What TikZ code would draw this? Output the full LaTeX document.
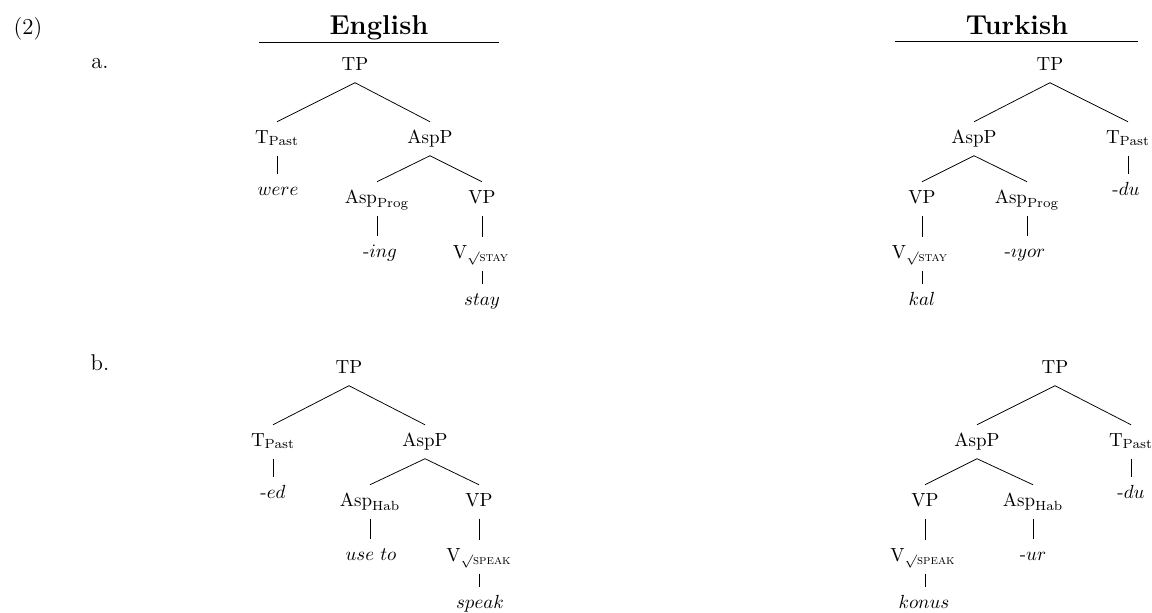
\documentclass[tikz,border=0pt]{standalone}
\usepackage{amsmath}
\usepackage{fontspec}
\usepackage{tikz}

% letter-spaced subscript text
\newcommand{\subtxt}[1]{\text{\addfontfeature{LetterSpace=30}#1}}

\begin{document}
\begin{tikzpicture}[x=0.527pt, y=-0.527pt,
    cat/.style={anchor=base, inner xsep=0pt, inner ysep=4.5pt, text height=6.5pt, text depth=2pt},
    heading/.style={anchor=base, font=\Large\bfseries},
    exlabel/.style={anchor=base, font=\large}]
    \useasboundingbox (0,0) rectangle (1152,613);

    % Example number and sub-labels
    \node[exlabel] (num) at (28,34) {(2)};
    \node[exlabel] (la) at (100,68) {a.};
    \node[exlabel] (lb) at (100,370) {b.};

    % Column headings
    \node[heading] (eng) at (379,34) {English};
    \node[heading] (tur) at (1017,34) {Turkish};
    \draw (259,42) -- (499,42);
    \draw (895,41) -- (1138,41);

    % English, a.
    \node[cat] (eaTP) at (355,70) {TP};
    \node[cat] (eaT) at (277,143) {$\mathrm{T}_{\subtxt{Past}}$};
    \node[cat] (eaAspP) at (430,143) {AspP};
    \node[cat] (eaWere) at (278,195) {$were$};
    \node[cat] (eaAsp) at (377,203) {$\mathrm{Asp}_{\subtxt{Prog}}$};
    \node[cat] (eaVP) at (482,203) {VP};
    \node[cat] (eaIng) at (380,257) {-$ing$};
    \node[cat] (eaV) at (481,258) {$\mathrm{V}_{\surd\subtxt{\textsc{stay}}}$};
    \node[cat] (eaStay) at (482,305) {$stay$};
    \draw (eaTP.south) -- (eaT.north);
    \draw (eaTP.south) -- (eaAspP.north);
    \draw (eaT.south) -- (eaT.south |- eaWere.north);
    \draw (eaAspP.south) -- (eaAsp.north);
    \draw (eaAspP.south) -- (eaVP.north);
    \draw (eaAsp.south) -- (eaAsp.south |- eaIng.north);
    \draw (eaVP.south) -- (eaVP.south |- eaV.north);
    \draw (eaVP.south |- eaV.south) -- (eaVP.south |- eaStay.north);

    % Turkish, a.
    \node[cat] (taTP) at (1050,70) {TP};
    \node[cat] (taAspP) at (974,143) {AspP};
    \node[cat] (taT) at (1128,143) {$\mathrm{T}_{\subtxt{Past}}$};
    \node[cat] (taVP) at (922,203) {VP};
    \node[cat] (taAsp) at (1027,203) {$\mathrm{Asp}_{\subtxt{Prog}}$};
    \node[cat] (taDu) at (1126,195) {-$du$};
    \node[cat] (taV) at (920,258) {$\mathrm{V}_{\surd\subtxt{\textsc{stay}}}$};
    \node[cat] (taIyor) at (1025,257) {-$\imath yor$};
    \node[cat] (taKal) at (922,305) {$kal$};
    \draw (taTP.south) -- (taAspP.north);
    \draw (taTP.south) -- (taT.north);
    \draw (taT.south) -- (taT.south |- taDu.north);
    \draw (taAspP.south) -- (taVP.north);
    \draw (taAspP.south) -- (taAsp.north);
    \draw (taVP.south) -- (taVP.south |- taV.north);
    \draw (taAsp.south) -- (taAsp.south |- taIyor.north);
    \draw (taVP.south |- taV.south) -- (taVP.south |- taKal.north);

    % English, b.
    \node[cat] (ebTP) at (349,373) {TP};
    \node[cat] (ebT) at (273,446) {$\mathrm{T}_{\subtxt{Past}}$};
    \node[cat] (ebAspP) at (425,446) {AspP};
    \node[cat] (ebEd) at (273,498) {-$ed$};
    \node[cat] (ebAsp) at (370,506) {$\mathrm{Asp}_{\subtxt{Hab}}$};
    \node[cat] (ebVP) at (479,506) {VP};
    \node[cat] (ebUse) at (371,560) {$use\ to$};
    \node[cat] (ebV) at (479,561) {$\mathrm{V}_{\surd\subtxt{\textsc{speak}}}$};
    \node[cat] (ebSpeak) at (480,608) {$speak$};
    \draw (ebTP.south) -- (ebT.north);
    \draw (ebTP.south) -- (ebAspP.north);
    \draw (ebT.south) -- (ebT.south |- ebEd.north);
    \draw (ebAspP.south) -- (ebAsp.north);
    \draw (ebAspP.south) -- (ebVP.north);
    \draw (ebAsp.south) -- (ebAsp.south |- ebUse.north);
    \draw (ebVP.south) -- (ebVP.south |- ebV.north);
    \draw (ebVP.south |- ebV.south) -- (ebVP.south |- ebSpeak.north);

    % Turkish, b.
    \node[cat] (tbTP) at (1055,373) {TP};
    \node[cat] (tbAspP) at (977,446) {AspP};
    \node[cat] (tbT) at (1131,446) {$\mathrm{T}_{\subtxt{Past}}$};
    \node[cat] (tbVP) at (925,506) {VP};
    \node[cat] (tbAsp) at (1033,506) {$\mathrm{Asp}_{\subtxt{Hab}}$};
    \node[cat] (tbDu) at (1131,498) {-$du$};
    \node[cat] (tbV) at (923,561) {$\mathrm{V}_{\surd\subtxt{\textsc{speak}}}$};
    \node[cat] (tbUr) at (1033,560) {-$ur$};
    \node[cat] (tbKonus) at (924,608) {$konus$};
    \draw (tbTP.south) -- (tbAspP.north);
    \draw (tbTP.south) -- (tbT.north);
    \draw (tbT.south) -- (tbT.south |- tbDu.north);
    \draw (tbAspP.south) -- (tbVP.north);
    \draw (tbAspP.south) -- (tbAsp.north);
    \draw (tbVP.south) -- (tbVP.south |- tbV.north);
    \draw (tbAsp.south) -- (tbAsp.south |- tbUr.north);
    \draw (tbVP.south |- tbV.south) -- (tbVP.south |- tbKonus.north);
\end{tikzpicture}
\end{document}
